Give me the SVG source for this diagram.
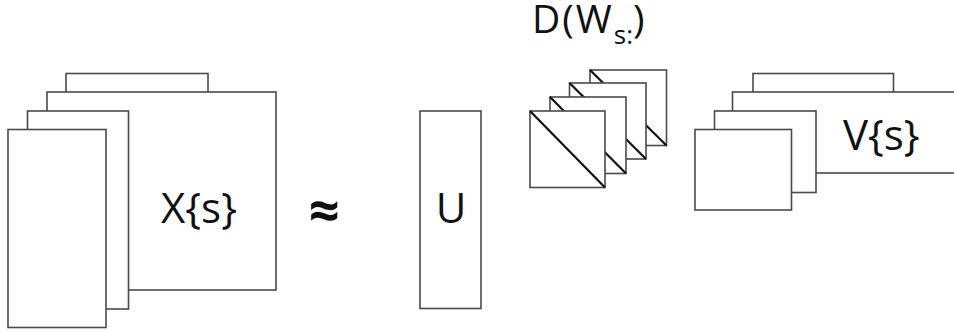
<svg xmlns="http://www.w3.org/2000/svg" width="954" height="332" viewBox="0 0 954 332">
<style>
.r{fill:#fff;stroke:#4a4a4a;stroke-width:1.6}
.d{stroke:#111;stroke-width:2.2}
.t{font-family:"Open Sans","Liberation Sans",sans-serif;fill:#111}
</style>
<rect width="954" height="332" fill="#fff"/>
<g id="X">
<rect class="r" x="66" y="73.5" width="142" height="150"/>
<rect class="r" x="47" y="92" width="229" height="198"/>
<rect class="r" x="27.5" y="111" width="101" height="198"/>
<rect class="r" x="8" y="129.5" width="98" height="198"/>
<text class="t" x="199" y="223" font-size="42" text-anchor="middle">X{s}</text>
</g>
<g id="approx">
<text class="t" x="324.5" y="230" font-size="54" font-weight="bold" text-anchor="middle">≈</text>
</g>
<g id="U">
<rect class="r" x="420" y="111" width="61" height="197.5"/>
<text class="t" x="451" y="223" font-size="42" text-anchor="middle">U</text>
</g>
<g id="D">
<rect class="r" x="590" y="70" width="76.5" height="75.5"/><line class="d" x1="590" y1="70" x2="666.5" y2="145.5"/>
<rect class="r" x="569.5" y="83" width="76.5" height="76"/><line class="d" x1="569.5" y1="83" x2="646" y2="159"/>
<rect class="r" x="550" y="97" width="76" height="76.5"/><line class="d" x1="550" y1="97" x2="626" y2="173.5"/>
<rect class="r" x="530" y="111" width="75" height="76.5"/><line class="d" x1="530" y1="111" x2="605" y2="187.5"/>
<text class="t" x="532" y="33" font-size="39" letter-spacing="2">D(W<tspan font-size="26" dy="11" letter-spacing="0">s:</tspan><tspan dy="-11">)</tspan></text>
</g>
<g id="V">
<rect class="r" x="753" y="73.5" width="140.5" height="60"/>
<rect class="r" x="732.5" y="92" width="230" height="81"/>
<rect class="r" x="714.5" y="111" width="101.5" height="81.5"/>
<rect class="r" x="695" y="129.5" width="96.5" height="80.5"/>
<text class="t" x="843" y="150" font-size="42">V{s}</text>
</g>
<g id="connectors"/>
</svg>
